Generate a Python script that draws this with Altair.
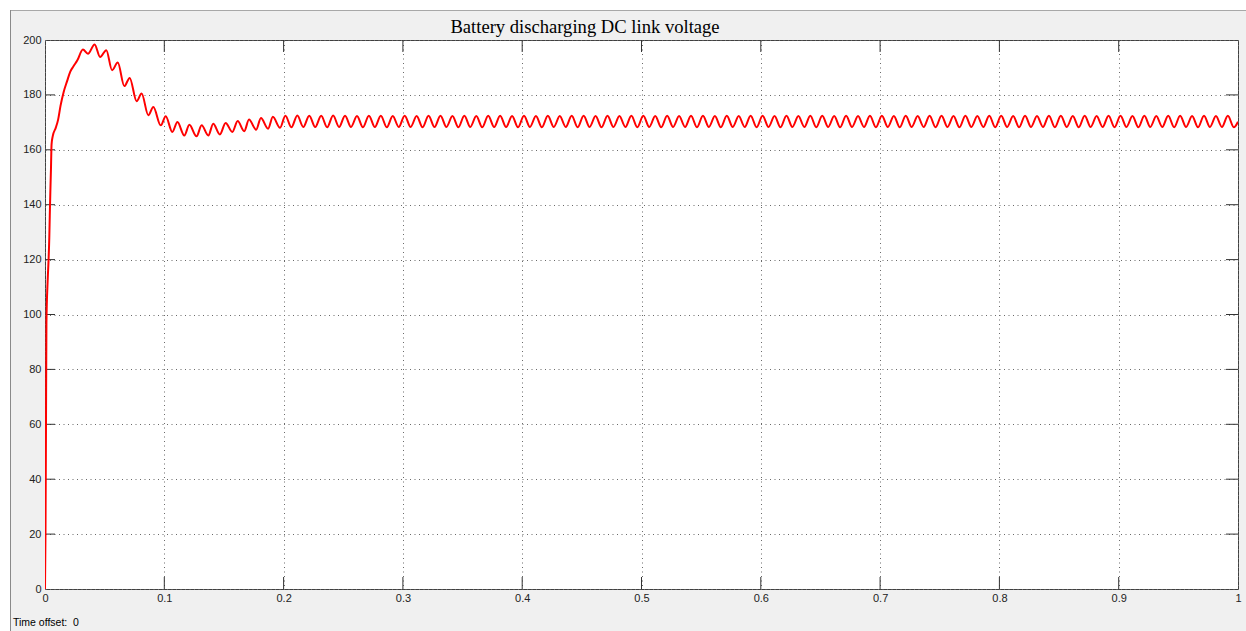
import altair as alt
import pandas as pd

# ---- data ----
trans_t = [0.0, 0.0004, 0.0008, 0.0012, 0.0022, 0.0030, 0.0036, 0.0040, 0.0045, 0.0050,
           0.0055, 0.0065, 0.0090, 0.0110, 0.0130, 0.0156, 0.0185, 0.0212, 0.0240, 0.0270,
           0.0318, 0.0360, 0.0416, 0.0462, 0.0514, 0.0562, 0.0610, 0.0665, 0.0710, 0.0768,
           0.0810, 0.0866, 0.0908, 0.0970, 0.1012, 0.1067, 0.1110, 0.1168, 0.1210, 0.1270,
           0.1313, 0.1369, 0.1410, 0.1466, 0.1514, 0.1570, 0.1615, 0.1670, 0.1710, 0.1770,
           0.1810, 0.1870, 0.1910, 0.1970]
trans_v = [0.0, 20.0, 56.0, 97.0, 112.0, 120.0, 128.0, 136.0, 145.0, 153.0,
           162.0, 165.0, 168.0, 171.0, 176.0, 181.0, 185.0, 188.5, 190.5, 192.5,
           196.5, 195.0, 198.4, 193.8, 196.3, 189.0, 191.8, 183.2, 186.2, 177.7,
           180.5, 172.6, 175.6, 168.9, 172.2, 166.5, 170.1, 165.2, 169.1, 164.9,
           168.9, 165.2, 169.5, 165.6, 169.8, 166.5, 170.5, 166.8, 171.0, 167.3,
           171.6, 167.7, 172.0, 168.0]

# steady-state ripple: alternating crest / trough samples every half period
steady_t0 = 0.2015
steady_half_period = 0.005
steady_peaks = [172.4, 172.5, 172.4, 172.4, 172.5, 172.4, 172.3, 172.4, 172.4, 172.3,
                172.4, 172.3, 172.4, 172.4, 172.3, 172.4, 172.3, 172.4, 172.4, 172.3,
                172.4, 172.3, 172.4, 172.3, 172.4, 172.4, 172.3, 172.4, 172.3, 172.4,
                172.4, 172.3, 172.4, 172.3, 172.4, 172.4, 172.3, 172.4, 172.3, 172.4,
                172.4, 172.3, 172.4, 172.3, 172.4, 172.4, 172.3, 172.4, 172.3, 172.4,
                172.4, 172.3, 172.4, 172.3, 172.4, 172.4, 172.3, 172.4, 172.3, 172.4,
                172.4, 172.3, 172.4, 172.3, 172.4, 172.4, 172.3, 172.4, 172.3, 172.4,
                172.4, 172.3, 172.4, 172.3, 172.4, 172.4, 172.3, 172.4, 172.3, 172.4]
steady_troughs = [168.2, 168.3, 168.3, 168.2, 168.3, 168.3, 168.2, 168.3, 168.2, 168.3,
                  168.3, 168.2, 168.3, 168.3, 168.2, 168.3, 168.2, 168.3, 168.3, 168.2,
                  168.3, 168.2, 168.3, 168.3, 168.2, 168.3, 168.2, 168.3, 168.3, 168.2,
                  168.3, 168.2, 168.3, 168.3, 168.2, 168.3, 168.2, 168.3, 168.3, 168.2,
                  168.3, 168.2, 168.3, 168.3, 168.2, 168.3, 168.2, 168.3, 168.3, 168.2,
                  168.3, 168.2, 168.3, 168.3, 168.2, 168.3, 168.2, 168.3, 168.3, 168.2,
                  168.3, 168.2, 168.3, 168.3, 168.2, 168.3, 168.2, 168.3, 168.3, 168.2,
                  168.3, 168.2, 168.3, 168.3, 168.2, 168.3, 168.2, 168.3, 168.3, 168.2]
end_t = 1.0
end_v = 170.2

x_ticks = [0, 0.1, 0.2, 0.3, 0.4, 0.5, 0.6, 0.7, 0.8, 0.9, 1]
y_ticks = [0, 20, 40, 60, 80, 100, 120, 140, 160, 180, 200]

title_text = "Battery discharging DC link voltage"
offset_text = "Time offset:\u00a0\u00a00"

# ---- build table ----
ts = list(trans_t)
vs = list(trans_v)
for i, (p, tr) in enumerate(zip(steady_peaks, steady_troughs)):
    ts.append(steady_t0 + 2 * i * steady_half_period)
    vs.append(p)
    ts.append(steady_t0 + (2 * i + 1) * steady_half_period)
    vs.append(tr)
ts.append(end_t)
vs.append(end_v)
df = pd.DataFrame({"t": ts, "v": vs})

W, H = 1193, 549
FONT = "Liberation Sans"

xscale = alt.Scale(domain=[0, 1], nice=False, zero=False)
yscale = alt.Scale(domain=[0, 200], nice=False, zero=False)

GRID_COLOR = "#6a6a6a"
GRID_DASH = [1, 3.5]

xaxis = alt.Axis(values=x_ticks, format="~g", grid=True, gridDash=GRID_DASH, gridColor=GRID_COLOR,
                 gridOpacity=1, ticks=False, domain=False, labelFont=FONT, labelFontSize=11,
                 labelColor="#222222", labelPadding=3, labelFlush=False, labelOverlap=False,
                 title=None)
yaxis = alt.Axis(values=y_ticks, grid=True, gridDash=GRID_DASH, gridColor=GRID_COLOR,
                 gridOpacity=1, ticks=False, domain=False, labelFont=FONT, labelFontSize=11,
                 labelColor="#222222", labelPadding=4, labelFlush=False, labelOverlap=False,
                 title=None)

one = pd.DataFrame({"a": [0]})

# window chrome: white strips and border lines
top_strip = alt.Chart(one).mark_rect(color="white").encode(
    x=alt.value(-45), x2=alt.value(W + 8), y=alt.value(-40), y2=alt.value(-30))
left_strip = alt.Chart(one).mark_rect(color="white").encode(
    x=alt.value(-45), x2=alt.value(-35), y=alt.value(-40), y2=alt.value(H + 42))
top_border = alt.Chart(one).mark_rule(color="#a8a8a8", strokeWidth=1).encode(
    x=alt.value(-35), x2=alt.value(W + 8), y=alt.value(-29.5))
left_border = alt.Chart(one).mark_rule(color="#8a8a8a", strokeWidth=1).encode(
    x=alt.value(-34.5), y=alt.value(-30), y2=alt.value(H + 42))

line = alt.Chart(df).mark_line(color="#ff0000", strokeWidth=2, interpolate="monotone",
                               clip=True).encode(
    x=alt.X("t:Q", scale=xscale, axis=xaxis),
    y=alt.Y("v:Q", scale=yscale, axis=yaxis),
)

xt = pd.DataFrame({"t": x_ticks[1:-1]})
yt = pd.DataFrame({"v": y_ticks[1:-1]})
TL = 12
tick_top = alt.Chart(xt).mark_rule(color="#333333").encode(
    x=alt.X("t:Q", scale=xscale, axis=xaxis), y=alt.value(0), y2=alt.value(TL))
tick_bot = alt.Chart(xt).mark_rule(color="#333333").encode(
    x=alt.X("t:Q", scale=xscale, axis=xaxis), y=alt.value(H - TL), y2=alt.value(H))
tick_left = alt.Chart(yt).mark_rule(color="#333333").encode(
    y=alt.Y("v:Q", scale=yscale, axis=yaxis), x=alt.value(0), x2=alt.value(10))
tick_right = alt.Chart(yt).mark_rule(color="#333333").encode(
    y=alt.Y("v:Q", scale=yscale, axis=yaxis), x=alt.value(W - 12), x2=alt.value(W))

title = alt.Chart(one).mark_text(font="Liberation Serif", fontSize=18.6, color="#000000",
                                 align="center", baseline="middle").encode(
    x=alt.value(540), y=alt.value(-13), text=alt.value(title_text))
offset = alt.Chart(one).mark_text(font=FONT, fontSize=10.5, color="#000000",
                                  align="left", baseline="middle").encode(
    x=alt.value(-32), y=alt.value(H + 34), text=alt.value(offset_text))

chart = alt.layer(
    top_strip, left_strip, top_border, left_border,
    tick_top, tick_bot, tick_left, tick_right,
    line, title, offset,
).properties(
    width=W, height=H,
    padding={"left": 45, "top": 40, "right": 8, "bottom": 42},
    autosize=alt.AutoSizeParams(type="none"),
    background="#f0f0f0",
).configure_view(
    fill="white", stroke="#404040", strokeWidth=1
)

chart.save("out.html", embed_options={"renderer": "svg", "actions": False})
